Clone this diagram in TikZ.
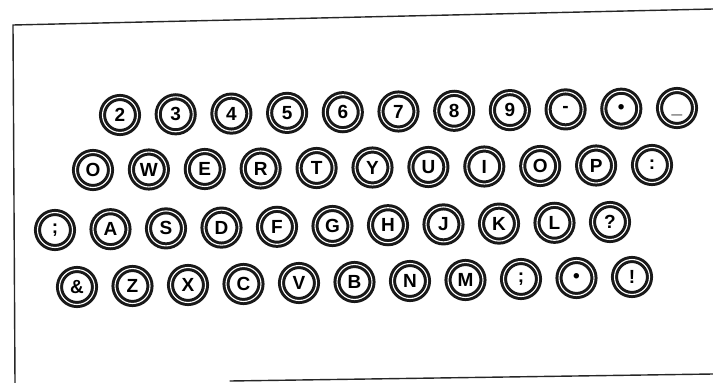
\documentclass[tikz,border=0pt]{standalone}
\usepackage{fontspec}
\setmainfont{Liberation Sans}
\usepackage{tikz}
\usetikzlibrary{positioning,calc}
\tikzset{
keycap/.style={circle,draw=black!90,line width=3pt,double=white,double distance=1.1pt,
  minimum size=35pt,inner sep=0pt,fill=white,font=\fontsize{19}{19}\selectfont\bfseries},
frameline/.style={draw=black!85,line width=1.4pt,line cap=round}
}
\begin{document}
\begin{tikzpicture}[x=1pt,y=-1pt]
\useasboundingbox (0,0) rectangle (713,383);
% frame of the page
\coordinate (tl) at (13,25);
\coordinate (tr) at (713,9);
\coordinate (bl) at (15,383);
\coordinate (bs) at (230,381);
\coordinate (br) at (713,374);
\draw[frameline] (tr) -- (tl) -- (bl);
\draw[frameline] (bs) -- (br);
% number row
\foreach \t [count=\i from 0] in {2,3,4,5,6,7,8,9,-,•,{\vphantom{A}\_}}
  \node[keycap] (ka-\i) at ({120+\i*55.7},{115-\i*0.7}) {\t};
% upper letter row
\foreach \t [count=\i from 0] in {O,W,E,R,T,Y,U,I,O,P,:}
  \node[keycap] (kb-\i) at ({93+\i*55.9},{170-\i*0.5}) {\t};
% middle letter row
\foreach \t [count=\i from 0] in {;,A,S,D,F,G,H,J,K,L,?}
  \node[keycap] (kc-\i) at ({55+\i*55.5},{230-\i*0.8}) {\t};
% lower letter row
\foreach \t [count=\i from 0] in {\&,Z,X,C,V,B,N,M,;,•,!}
  \node[keycap] (kd-\i) at ({77+\i*55.5},{287-\i*1.0}) {\t};
\end{tikzpicture}
\end{document}
